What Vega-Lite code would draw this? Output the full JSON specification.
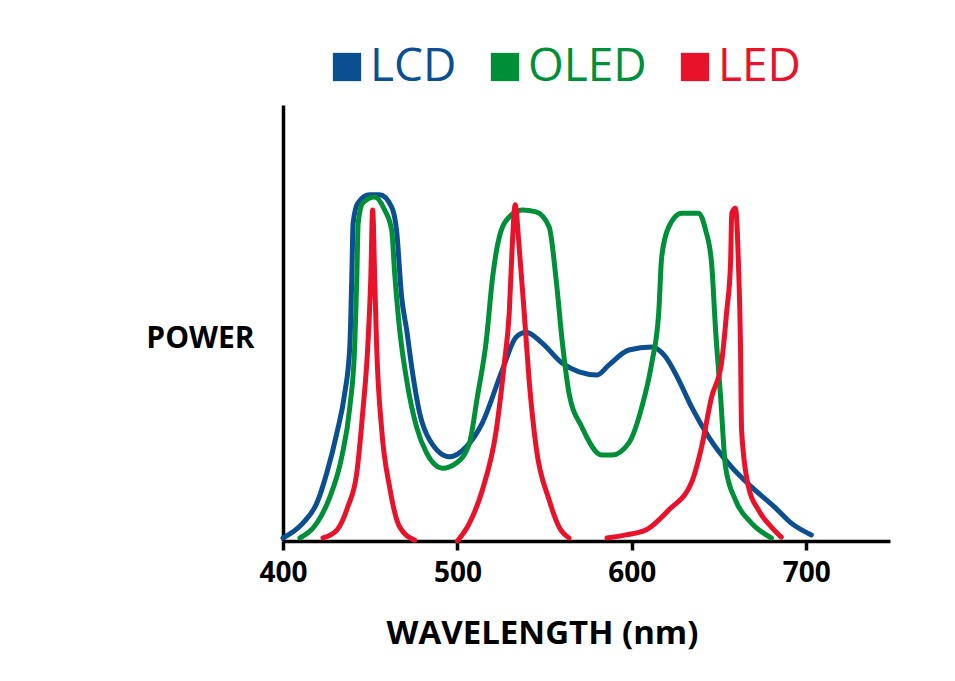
{
  "$schema": "https://vega.github.io/schema/vega-lite/v6.json",
  "autosize": {"type": "none"},
  "width": 607,
  "height": 436,
  "padding": {"left": 283, "top": 105, "right": 65, "bottom": 140},
  "background": "white",
  "config": {"view": {"stroke": null}, "font": "Open Sans"},
  "data": {"values": [
    {"series":"LCD","seg":"LCD","wavelength":400,"power":0.7},
    {"series":"LCD","seg":"LCD","wavelength":411.4,"power":4.1},
    {"series":"LCD","seg":"LCD","wavelength":419.4,"power":8.7},
    {"series":"LCD","seg":"LCD","wavelength":425.1,"power":15.6},
    {"series":"LCD","seg":"LCD","wavelength":430.9,"power":24.8},
    {"series":"LCD","seg":"LCD","wavelength":435.4,"power":33.9},
    {"series":"LCD","seg":"LCD","wavelength":438.3,"power":44.5},
    {"series":"LCD","seg":"LCD","wavelength":439.4,"power":59.9},
    {"series":"LCD","seg":"LCD","wavelength":440.2,"power":72.9},
    {"series":"LCD","seg":"LCD","wavelength":442.9,"power":77.5},
    {"series":"LCD","seg":"LCD","wavelength":449.7,"power":79.4},
    {"series":"LCD","seg":"LCD","wavelength":455.4,"power":79.4},
    {"series":"LCD","seg":"LCD","wavelength":462.3,"power":76.6},
    {"series":"LCD","seg":"LCD","wavelength":465.1,"power":71.3},
    {"series":"LCD","seg":"LCD","wavelength":468,"power":56},
    {"series":"LCD","seg":"LCD","wavelength":470.9,"power":48.4},
    {"series":"LCD","seg":"LCD","wavelength":474.3,"power":38.5},
    {"series":"LCD","seg":"LCD","wavelength":478.3,"power":29.4},
    {"series":"LCD","seg":"LCD","wavelength":484,"power":23.2},
    {"series":"LCD","seg":"LCD","wavelength":495.4,"power":19.3},
    {"series":"LCD","seg":"LCD","wavelength":505.1,"power":21.6},
    {"series":"LCD","seg":"LCD","wavelength":514.3,"power":27.1},
    {"series":"LCD","seg":"LCD","wavelength":525.7,"power":39.2},
    {"series":"LCD","seg":"LCD","wavelength":533.7,"power":46.8},
    {"series":"LCD","seg":"LCD","wavelength":539.4,"power":47.9},
    {"series":"LCD","seg":"LCD","wavelength":548.6,"power":45.4},
    {"series":"LCD","seg":"LCD","wavelength":560,"power":40.8},
    {"series":"LCD","seg":"LCD","wavelength":569.7,"power":38.8},
    {"series":"LCD","seg":"LCD","wavelength":580,"power":38.1},
    {"series":"LCD","seg":"LCD","wavelength":586.9,"power":40.4},
    {"series":"LCD","seg":"LCD","wavelength":598.3,"power":43.8},
    {"series":"LCD","seg":"LCD","wavelength":611.4,"power":44.5},
    {"series":"LCD","seg":"LCD","wavelength":619.4,"power":42.2},
    {"series":"LCD","seg":"LCD","wavelength":626.9,"power":36.9},
    {"series":"LCD","seg":"LCD","wavelength":634.3,"power":30.7},
    {"series":"LCD","seg":"LCD","wavelength":644,"power":23.9},
    {"series":"LCD","seg":"LCD","wavelength":657.1,"power":17},
    {"series":"LCD","seg":"LCD","wavelength":668.6,"power":12.4},
    {"series":"LCD","seg":"LCD","wavelength":682.3,"power":7.6},
    {"series":"LCD","seg":"LCD","wavelength":691.4,"power":4.1},
    {"series":"LCD","seg":"LCD","wavelength":702.9,"power":1.4},
    {"series":"OLED","seg":"OLED","wavelength":409.7,"power":0.7},
    {"series":"OLED","seg":"OLED","wavelength":419.4,"power":4.1},
    {"series":"OLED","seg":"OLED","wavelength":426.9,"power":10.1},
    {"series":"OLED","seg":"OLED","wavelength":433.7,"power":19.3},
    {"series":"OLED","seg":"OLED","wavelength":438.3,"power":30.7},
    {"series":"OLED","seg":"OLED","wavelength":441.1,"power":44.5},
    {"series":"OLED","seg":"OLED","wavelength":442.3,"power":59.9},
    {"series":"OLED","seg":"OLED","wavelength":443.1,"power":72.9},
    {"series":"OLED","seg":"OLED","wavelength":445.7,"power":77.5},
    {"series":"OLED","seg":"OLED","wavelength":452.6,"power":78.9},
    {"series":"OLED","seg":"OLED","wavelength":458.3,"power":75.9},
    {"series":"OLED","seg":"OLED","wavelength":462.3,"power":71.3},
    {"series":"OLED","seg":"OLED","wavelength":464,"power":61.5},
    {"series":"OLED","seg":"OLED","wavelength":466.9,"power":48.4},
    {"series":"OLED","seg":"OLED","wavelength":470.9,"power":36.9},
    {"series":"OLED","seg":"OLED","wavelength":476.6,"power":26.1},
    {"series":"OLED","seg":"OLED","wavelength":482.3,"power":20.2},
    {"series":"OLED","seg":"OLED","wavelength":491.4,"power":16.7},
    {"series":"OLED","seg":"OLED","wavelength":499.4,"power":17.9},
    {"series":"OLED","seg":"OLED","wavelength":506.9,"power":22.5},
    {"series":"OLED","seg":"OLED","wavelength":511.4,"power":33},
    {"series":"OLED","seg":"OLED","wavelength":516.6,"power":46.1},
    {"series":"OLED","seg":"OLED","wavelength":520,"power":59.9},
    {"series":"OLED","seg":"OLED","wavelength":524,"power":69.7},
    {"series":"OLED","seg":"OLED","wavelength":529.7,"power":74.3},
    {"series":"OLED","seg":"OLED","wavelength":537.1,"power":75.9},
    {"series":"OLED","seg":"OLED","wavelength":545.1,"power":75.5},
    {"series":"OLED","seg":"OLED","wavelength":552.6,"power":72},
    {"series":"OLED","seg":"OLED","wavelength":556.6,"power":59.9},
    {"series":"OLED","seg":"OLED","wavelength":560,"power":46.1},
    {"series":"OLED","seg":"OLED","wavelength":564,"power":33.9},
    {"series":"OLED","seg":"OLED","wavelength":571.4,"power":26.1},
    {"series":"OLED","seg":"OLED","wavelength":582.9,"power":19.7},
    {"series":"OLED","seg":"OLED","wavelength":588.6,"power":19.7},
    {"series":"OLED","seg":"OLED","wavelength":598.3,"power":22.5},
    {"series":"OLED","seg":"OLED","wavelength":605.7,"power":30.7},
    {"series":"OLED","seg":"OLED","wavelength":611.4,"power":40.8},
    {"series":"OLED","seg":"OLED","wavelength":615.4,"power":52.3},
    {"series":"OLED","seg":"OLED","wavelength":617.1,"power":65.1},
    {"series":"OLED","seg":"OLED","wavelength":621.1,"power":72},
    {"series":"OLED","seg":"OLED","wavelength":628.6,"power":75.2},
    {"series":"OLED","seg":"OLED","wavelength":638.3,"power":75.2},
    {"series":"OLED","seg":"OLED","wavelength":642.3,"power":71.3},
    {"series":"OLED","seg":"OLED","wavelength":645.7,"power":63.8},
    {"series":"OLED","seg":"OLED","wavelength":648,"power":48.4},
    {"series":"OLED","seg":"OLED","wavelength":650.9,"power":33},
    {"series":"OLED","seg":"OLED","wavelength":653.7,"power":17},
    {"series":"OLED","seg":"OLED","wavelength":659.4,"power":9.4},
    {"series":"OLED","seg":"OLED","wavelength":668.6,"power":4.1},
    {"series":"OLED","seg":"OLED","wavelength":680,"power":0.7},
    {"series":"LED","seg":"LED1","wavelength":422.9,"power":0.7},
    {"series":"LED","seg":"LED1","wavelength":430.9,"power":2.5},
    {"series":"LED","seg":"LED1","wavelength":437.1,"power":7.8},
    {"series":"LED","seg":"LED1","wavelength":442.3,"power":15.6},
    {"series":"LED","seg":"LED1","wavelength":445.7,"power":29.4},
    {"series":"LED","seg":"LED1","wavelength":448.6,"power":44.5},
    {"series":"LED","seg":"LED1","wavelength":450.3,"power":59.9},
    {"series":"LED","seg":"LED1","wavelength":451.4,"power":75.9},
    {"series":"LED","seg":"LED1","wavelength":452.6,"power":59.9},
    {"series":"LED","seg":"LED1","wavelength":453.7,"power":44.5},
    {"series":"LED","seg":"LED1","wavelength":456.6,"power":25.5},
    {"series":"LED","seg":"LED1","wavelength":461.1,"power":12.4},
    {"series":"LED","seg":"LED1","wavelength":466.9,"power":3.2},
    {"series":"LED","seg":"LED1","wavelength":475.4,"power":0.2},
    {"series":"LED","seg":"LED2","wavelength":500,"power":0},
    {"series":"LED","seg":"LED2","wavelength":506.9,"power":4.1},
    {"series":"LED","seg":"LED2","wavelength":514.3,"power":11.7},
    {"series":"LED","seg":"LED2","wavelength":522.3,"power":25.5},
    {"series":"LED","seg":"LED2","wavelength":526.9,"power":40.8},
    {"series":"LED","seg":"LED2","wavelength":529.7,"power":52.3},
    {"series":"LED","seg":"LED2","wavelength":531.4,"power":67.4},
    {"series":"LED","seg":"LED2","wavelength":533.1,"power":77.1},
    {"series":"LED","seg":"LED2","wavelength":535.4,"power":67.4},
    {"series":"LED","seg":"LED2","wavelength":538.3,"power":52.3},
    {"series":"LED","seg":"LED2","wavelength":541.1,"power":36.9},
    {"series":"LED","seg":"LED2","wavelength":545.1,"power":21.6},
    {"series":"LED","seg":"LED2","wavelength":552.6,"power":9.4},
    {"series":"LED","seg":"LED2","wavelength":558.3,"power":3.2},
    {"series":"LED","seg":"LED2","wavelength":564,"power":0.7},
    {"series":"LED","seg":"LED3","wavelength":585.7,"power":0.7},
    {"series":"LED","seg":"LED3","wavelength":596.6,"power":1.4},
    {"series":"LED","seg":"LED3","wavelength":608,"power":2.5},
    {"series":"LED","seg":"LED3","wavelength":621.1,"power":7.1},
    {"series":"LED","seg":"LED3","wavelength":634.3,"power":13.5},
    {"series":"LED","seg":"LED3","wavelength":640,"power":21.6},
    {"series":"LED","seg":"LED3","wavelength":645.7,"power":33},
    {"series":"LED","seg":"LED3","wavelength":651.4,"power":40.8},
    {"series":"LED","seg":"LED3","wavelength":654.3,"power":52.3},
    {"series":"LED","seg":"LED3","wavelength":656.6,"power":63.8},
    {"series":"LED","seg":"LED3","wavelength":657.3,"power":75.2},
    {"series":"LED","seg":"LED3","wavelength":659.4,"power":76.4},
    {"series":"LED","seg":"LED3","wavelength":661.1,"power":63.8},
    {"series":"LED","seg":"LED3","wavelength":662.3,"power":44.5},
    {"series":"LED","seg":"LED3","wavelength":662.9,"power":25.5},
    {"series":"LED","seg":"LED3","wavelength":666.9,"power":12.4},
    {"series":"LED","seg":"LED3","wavelength":672.6,"power":7.1},
    {"series":"LED","seg":"LED3","wavelength":680,"power":3.2},
    {"series":"LED","seg":"LED3","wavelength":685.7,"power":0.9}
  ]},
  "mark": {"type": "line", "strokeWidth": 5, "strokeCap": "round", "strokeJoin": "round", "interpolate": "monotone"},
  "encoding": {
    "x": {
      "field": "wavelength", "type": "quantitative",
      "scale": {"domain": [400, 748], "nice": false, "zero": false},
      "axis": {
        "values": [400, 500, 600, 700],
        "grid": false,
        "domainColor": "black", "domainWidth": 3.5,
        "tickColor": "black", "tickWidth": 3.5, "tickSize": 9,
        "labelFont": "Open Sans", "labelFontSize": 28, "labelFontWeight": "bold",
        "labelColor": "black", "labelPadding": 9, "labelFlush": false,
        "title": "WAVELENGTH (nm)",
        "titleFont": "Open Sans", "titleFontSize": 33, "titleFontWeight": "bold",
        "titleColor": "black", "titleX": 259, "titleY": 92, "titleAlign": "center", "titleBaseline": "middle"
      }
    },
    "y": {
      "field": "power", "type": "quantitative",
      "scale": {"domain": [0, 100], "nice": false},
      "axis": {
        "grid": false, "ticks": false, "labels": false,
        "domainColor": "black", "domainWidth": 3.5,
        "title": "POWER",
        "titleFont": "Open Sans", "titleFontSize": 30, "titleFontWeight": "bold",
        "titleColor": "black", "titleAngle": 0, "titleX": -83, "titleY": 233,
        "titleAlign": "center", "titleBaseline": "middle"
      }
    },
    "color": {
      "field": "series", "type": "nominal",
      "scale": {"domain": ["LCD", "OLED", "LED"], "range": ["#0b4f91", "#008f39", "#e8132b"]},
      "legend": {
        "title": null,
        "orient": "none", "direction": "horizontal",
        "legendX": 41, "legendY": -61, "padding": 0,
        "symbolType": "square", "symbolSize": 800, "symbolStrokeWidth": 0,
        "symbolOpacity": 1,
        "labelFont": "Open Sans", "labelFontSize": 46, "labelOffset": 0,
        "columnPadding": 25,
        "encode": {
          "labels": {"update": {"fill": {"signal": "scale('color', datum.value)"}}},
          "symbols": {"update": {"fill": {"signal": "scale('color', datum.value)"}, "fillOpacity": {"value": 1}}}
        }
      }
    },
    "detail": {"field": "seg", "type": "nominal"}
  }
}
